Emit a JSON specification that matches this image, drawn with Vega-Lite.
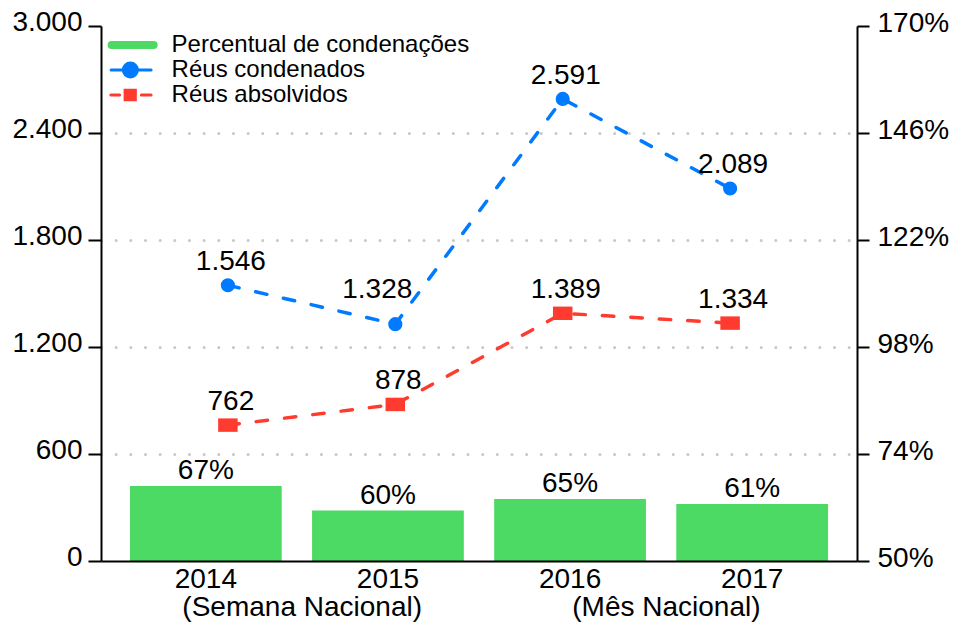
{
  "$schema": "https://vega.github.io/schema/vega-lite/v6.json",
  "width": 756,
  "height": 535,
  "autosize": {"type": "none"},
  "padding": {"left": 101, "top": 26, "right": 98, "bottom": 64},
  "background": "white",
  "datasets": {
    "barras": [
      {"ano": "2014", "pct": 66.8, "rotulo": "67%"},
      {"ano": "2015", "pct": 61.3, "rotulo": "60%"},
      {"ano": "2016", "pct": 63.9, "rotulo": "65%"},
      {"ano": "2017", "pct": 62.8, "rotulo": "61%"}
    ],
    "subtitulos": [
      {"ano": "2014", "texto": "(Semana Nacional)"},
      {"ano": "2016", "texto": "(Mês Nacional)"}
    ],
    "reus": [
      {"ano": "2014", "serie": "Réus condenados", "valor": 1546},
      {"ano": "2015", "serie": "Réus condenados", "valor": 1328},
      {"ano": "2016", "serie": "Réus condenados", "valor": 2591},
      {"ano": "2017", "serie": "Réus condenados", "valor": 2089},
      {"ano": "2014", "serie": "Réus absolvidos", "valor": 762},
      {"ano": "2015", "serie": "Réus absolvidos", "valor": 878},
      {"ano": "2016", "serie": "Réus absolvidos", "valor": 1389},
      {"ano": "2017", "serie": "Réus absolvidos", "valor": 1334}
    ]
  },
  "layer": [
    {
      "data": {"name": "barras"},
      "layer": [
        {
          "mark": {"type": "bar"},
          "encoding": {
            "x": {
              "field": "ano", "type": "nominal",
              "scale": {"paddingInner": 0.1667, "paddingOuter": 0.159},
              "axis": {"orient": "bottom", "title": null, "ticks": false, "labelAngle": 0, "labelPadding": 4, "labelFontSize": 28, "domainWidth": 2, "domainColor": "#000", "labelColor": "#000", "zindex": 1}
            },
            "y": {
              "field": "pct", "type": "quantitative",
              "scale": {"domain": [50, 170], "zero": false, "nice": false},
              "axis": {"orient": "right", "title": null, "values": [50, 74, 98, 122, 146, 170], "labelExpr": "datum.value + '%'", "tickSize": 12, "labelPadding": 8, "labelFontSize": 28, "labelOffset": -3, "grid": false, "domainWidth": 2, "domainColor": "#000", "tickColor": "#000", "tickWidth": 2, "labelColor": "#000", "zindex": 1}
            },
            "y2": {"datum": 50},
            "color": {
              "datum": "Percentual de condenações",
              "type": "nominal",
              "scale": {"domain": ["Percentual de condenações", "Réus condenados", "Réus absolvidos"], "range": ["#4cd964", "#007aff", "#ff3b30"]},
              "legend": {
                "orient": "none", "legendX": 3.6, "legendY": 8, "title": null, "padding": 0,
                "labelFontSize": 24, "labelFont": "Liberation Sans", "labelColor": "#000", "labelLimit": 500,
                "symbolSize": 300, "symbolOffset": 16, "labelOffset": 27, "rowPadding": 1, "clipHeight": 22,
                "symbolStrokeWidth": 3,
                "encode": {
                  "symbols": {
                    "update": {
                      "shape": {"signal": "datum.value === 'Percentual de condenações' ? 'M-0.84,0H0.84' : datum.value === 'Réus condenados' ? 'M-0.86,0H0.74M0.19,0C0.19,0.155 0.065,0.28 -0.09,0.28C-0.245,0.28 -0.37,0.155 -0.37,0C-0.37,-0.155 -0.245,-0.28 -0.09,-0.28C0.065,-0.28 0.19,-0.155 0.19,0Z' : 'M-0.87,0H-0.52M0.35,0H0.74M-0.3,-0.19H0.11V0.19H-0.3Z'"},
                      "size": {"value": 2500},
                      "strokeWidth": {"signal": "datum.value === 'Percentual de condenações' ? 8 : 3"},
                      "fill": {"signal": "datum.value === 'Percentual de condenações' ? 'transparent' : datum.value === 'Réus condenados' ? '#007aff' : '#ff3b30'"},
                      "stroke": {"signal": "datum.value === 'Percentual de condenações' ? '#4cd964' : datum.value === 'Réus condenados' ? '#007aff' : '#ff3b30'"},
                      "strokeCap": {"value": "round"},
                      "strokeDash": {"value": []},
                      "opacity": {"value": 1}
                    }
                  }
                }
              }
            }
          }
        },
        {
          "mark": {"type": "text", "fontSize": 28, "baseline": "alphabetic", "dy": -7, "color": "#000"},
          "encoding": {
            "x": {"field": "ano", "type": "nominal"},
            "y": {"field": "pct", "type": "quantitative"},
            "text": {"field": "rotulo"}
          }
        },
        {
          "data": {"name": "subtitulos"},
          "mark": {"type": "text", "fontSize": 28, "baseline": "middle", "dy": 47, "color": "#000"},
          "encoding": {
            "x": {"field": "ano", "type": "nominal", "bandPosition": 1.135},
            "y": {"datum": 50, "type": "quantitative"},
            "text": {"field": "texto"}
          }
        }
      ]
    },
    {
      "data": {"name": "reus"},
      "layer": [
        {
          "mark": {"type": "line", "strokeWidth": 3.5, "strokeDash": [11.5, 17], "strokeCap": "round"},
          "encoding": {
            "x": {"field": "ano", "type": "ordinal", "scale": {"type": "point", "padding": 0.758}, "axis": null},
            "y": {
              "field": "valor", "type": "quantitative",
              "scale": {"domain": [0, 3000], "nice": false},
              "axis": {
                "orient": "left", "title": null, "values": [0, 600, 1200, 1800, 2400, 3000], "format": ",d",
                "tickSize": 13, "labelPadding": 6, "labelOffset": -4, "labelFontSize": 28,
                "domainWidth": 2, "domainColor": "#000", "tickColor": "#000", "tickWidth": 2, "labelColor": "#000",
                "grid": true, "gridDash": [0.01, 14.65], "gridCap": "round", "gridWidth": 3, "gridColor": "#c8c8c8",
                "gridOpacity": {"condition": {"test": "datum.value == 0 || datum.value == 3000", "value": 0}, "value": 1}
              }
            },
            "color": {"field": "serie", "type": "nominal", "legend": {"title": null}}
          }
        },
        {
          "transform": [{"filter": "datum.serie === 'Réus condenados'"}],
          "mark": {"type": "point", "shape": "circle", "filled": true, "size": 200, "opacity": 1},
          "encoding": {
            "x": {"field": "ano", "type": "ordinal"},
            "y": {"field": "valor", "type": "quantitative"},
            "color": {"field": "serie", "type": "nominal", "legend": {"title": null}}
          }
        },
        {
          "transform": [{"filter": "datum.serie === 'Réus absolvidos'"}],
          "mark": {"type": "point", "shape": "M-1,-0.69H1V0.69H-1Z", "filled": true, "size": 380, "opacity": 1},
          "encoding": {
            "x": {"field": "ano", "type": "ordinal"},
            "y": {"field": "valor", "type": "quantitative"},
            "color": {"field": "serie", "type": "nominal", "legend": {"title": null}}
          }
        },
        {
          "transform": [{"filter": "!(datum.serie === 'Réus condenados' && datum.ano === '2015')"}],
          "mark": {"type": "text", "fontSize": 28, "baseline": "middle", "dy": -23, "dx": 3, "color": "#000"},
          "encoding": {
            "x": {"field": "ano", "type": "ordinal"},
            "y": {"field": "valor", "type": "quantitative"},
            "text": {"field": "valor", "type": "quantitative", "format": ",d"}
          }
        },
        {
          "transform": [{"filter": "datum.serie === 'Réus condenados' && datum.ano === '2015'"}],
          "mark": {"type": "text", "fontSize": 28, "baseline": "middle", "dy": -34, "dx": -18, "color": "#000"},
          "encoding": {
            "x": {"field": "ano", "type": "ordinal"},
            "y": {"field": "valor", "type": "quantitative"},
            "text": {"field": "valor", "type": "quantitative", "format": ",d"}
          }
        }
      ]
    }
  ],
  "resolve": {"scale": {"x": "independent", "y": "independent"}},
  "config": {
    "font": "Liberation Sans",
    "view": {"stroke": null},
    "locale": {"number": {"decimal": ",", "thousands": ".", "grouping": [3], "currency": ["R$", ""]}},
    "axis": {"labelFont": "Liberation Sans"},
    "text": {"font": "Liberation Sans"}
  }
}
